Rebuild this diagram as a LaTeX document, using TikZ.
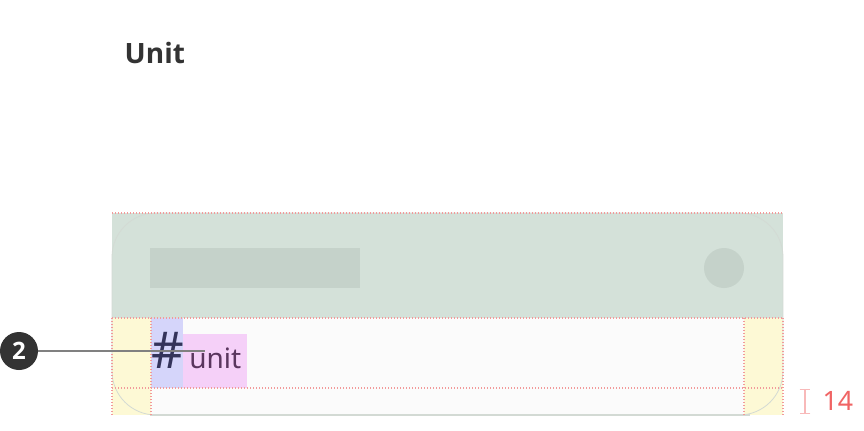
\documentclass[tikz,border=0pt]{standalone}
\usepackage{fontspec}
\setmainfont{Noto Sans}
\newfontfamily\boldsans{Open Sans}
\usetikzlibrary{positioning,arrows.meta}

\definecolor{cardgreen}{HTML}{D4E1D9}
\definecolor{cardshade}{HTML}{C5D2CA}
\definecolor{cardline}{HTML}{D3DAD4}
\definecolor{rowwhite}{HTML}{FBFBFB}
\definecolor{padyellow}{HTML}{FDF9D5}
\definecolor{iconblue}{HTML}{D5D5FA}
\definecolor{labelpink}{HTML}{F5D0F8}
\definecolor{guidered}{HTML}{F29A9A}
\definecolor{dimred}{HTML}{F06464}
\definecolor{titlegray}{HTML}{333333}
\definecolor{hashnavy}{HTML}{34345A}
\definecolor{unitplum}{HTML}{5A365E}

\tikzset{
  guide/.style={draw=guidered, line width=1pt, dash pattern=on 1pt off 1.25pt},
  callout/.style={circle, fill=titlegray, text=white, minimum size=28.5pt, inner sep=0pt,
    font=\boldsans\fontsize{18}{18}\selectfont\bfseries},
  leader/.style={draw=black!50, line width=0.9pt},
  dimline/.style={draw=dimred!45, line width=1pt}
}

\begin{document}
\begin{tikzpicture}[x=0.75pt,y=-0.75pt]
  \useasboundingbox[fill=white] (0,0) rectangle (864,430);
  % Title
  \node[anchor=west, text=titlegray, font=\boldsans\fontsize{21}{22}\selectfont\bfseries] (title) at (120,53) {Unit};
  % Card header
  \fill[cardgreen] (112,213) rectangle (783,318);
  \fill[cardshade] (150,248) rectangle (360,288);
  \fill[cardshade] (724,268) circle (20);
  % Card row
  \fill[rowwhite] (112,318) rectangle (783,415);
  \fill[padyellow] (112,318) rectangle (151,415);
  \fill[padyellow] (744,318) rectangle (783,415);
  \fill[iconblue] (151,318) rectangle (183,388);
  \fill[labelpink] (183,334) rectangle (247,388);
  % Card outline
  \draw[cardline, line width=0.6pt, rounded corners=33pt] (112,415) -- (112,213) -- (783,213) -- (783,415) -- cycle;
  \draw[cardline, line width=0.8pt] (150,415) -- (750,415);
  % Guides
  \draw[guide] (112,213) -- (783,213);
  \draw[guide] (112,318) -- (783,318);
  \draw[guide] (112,388) -- (783,388);
  \foreach \gx in {112,151,744,783}
    \draw[guide] (\gx,318) -- (\gx,415);
  % Row content
  \node[anchor=base west, inner sep=0pt, text=hashnavy, font=\fontsize{38}{38}\selectfont] (hash) at (151,368) {\#};
  \node[anchor=base west, inner sep=0pt, text=unitplum, font=\fontsize{21}{21}\selectfont] (unit) at (189,368) {unit};
  % Callout
  \node[callout] (c2) at (19,351) {2};
  \coordinate (c2end) at (205,351);
  \draw[leader] (c2) -- (c2end);
  % Dimension
  \coordinate (dimtop) at (805,389);
  \coordinate (dimbot) at (805,414);
  \draw[dimline, {Bar[width=8pt]}-{Bar[width=8pt]}] (dimtop) -- (dimbot);
  \node[anchor=west, text=dimred, font=\fontsize{20}{20}\selectfont] (dimlabel) at (818,401) {14};
\end{tikzpicture}
\end{document}
